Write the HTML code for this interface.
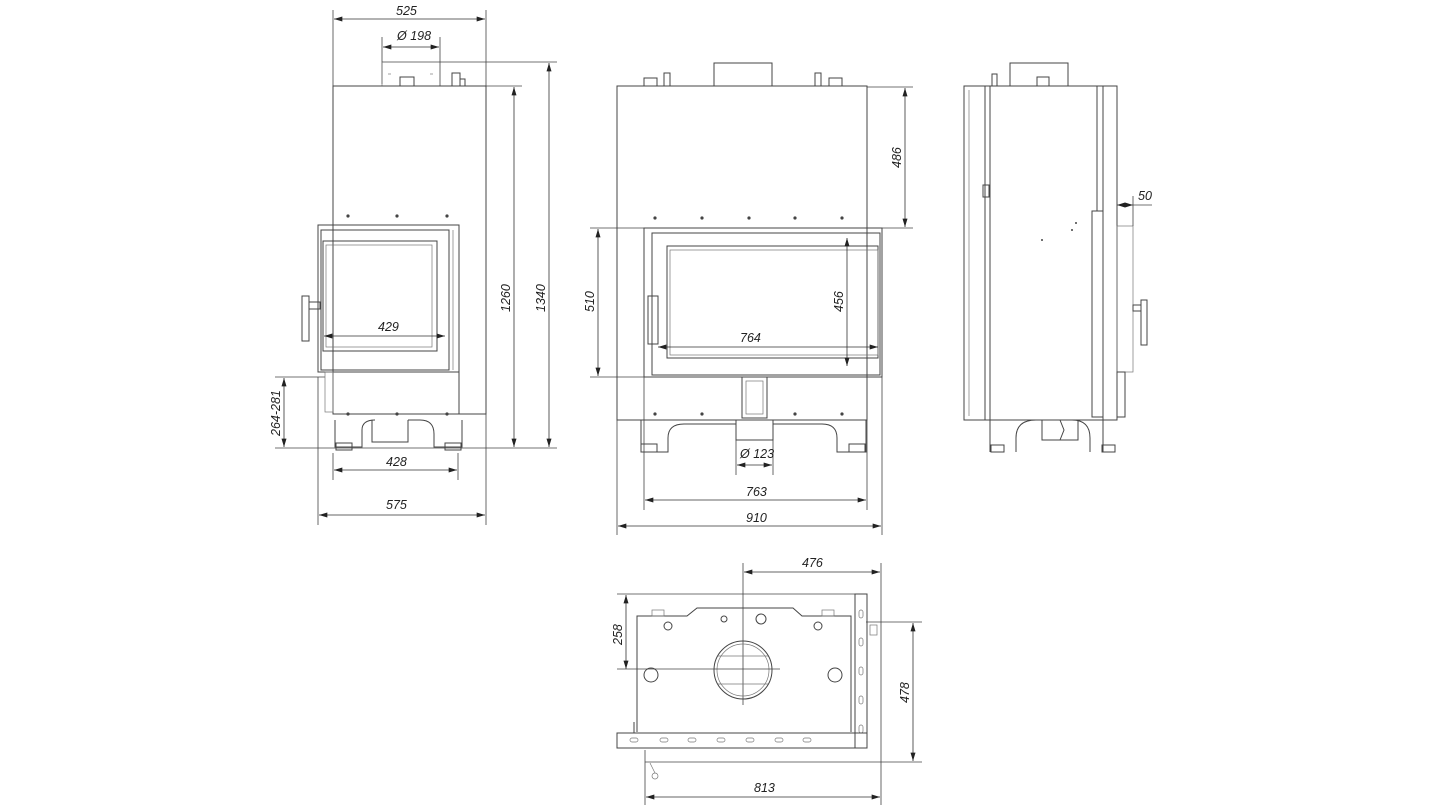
<!DOCTYPE html>
<html><head><meta charset="utf-8"><style>
html,body{margin:0;padding:0;background:#fff}
svg{display:block}
text{font-family:"Liberation Sans",sans-serif;font-style:italic;font-size:12.5px;fill:#222}
.b{fill:none;stroke:#444;stroke-width:1}
.t{fill:none;stroke:#777;stroke-width:0.7}
.d{fill:none;stroke:#444;stroke-width:0.8}
.dm{fill:none;stroke:#333;stroke-width:0.8;marker-start:url(#a);marker-end:url(#a)}
.dot{fill:#444}
</style></head><body>
<svg width="1445" height="812" viewBox="0 0 1445 812" xmlns="http://www.w3.org/2000/svg">
<defs><marker id="a" viewBox="0 0 10 6" refX="10" refY="3" markerWidth="9" markerHeight="5" orient="auto-start-reverse" markerUnits="userSpaceOnUse"><path d="M10,3 L0,0 L0,6 z" fill="#222"/></marker></defs>

<!-- ================= LEFT VIEW ================= -->
<line class="d" x1="333" y1="10" x2="333" y2="86"/><line class="d" x1="486" y1="10" x2="486" y2="86"/>
<line class="dm" x1="334" y1="19" x2="485" y2="19"/><text x="396" y="15">525</text>
<line class="d" x1="382" y1="37" x2="382" y2="84"/><line class="d" x1="440" y1="37" x2="440" y2="86"/>
<line class="dm" x1="383" y1="47" x2="439" y2="47"/><text x="397" y="40">Ø 198</text>
<line class="d" x1="382" y1="62" x2="557" y2="62"/>
<line class="d" x1="486" y1="86" x2="522" y2="86"/>
<line class="d" x1="275" y1="448" x2="557" y2="448"/>
<line class="d" x1="275" y1="377" x2="325" y2="377"/>
<line class="dm" x1="514" y1="87" x2="514" y2="447"/><text transform="translate(510,312) rotate(-90)">1260</text>
<line class="dm" x1="549" y1="63" x2="549" y2="447"/><text transform="translate(545,312) rotate(-90)">1340</text>
<line class="dm" x1="284" y1="378" x2="284" y2="447"/><text transform="translate(280,436) rotate(-90)">264-281</text>
<line class="d" x1="333" y1="453" x2="333" y2="480"/><line class="d" x1="458" y1="453" x2="458" y2="480"/>
<line class="dm" x1="334" y1="470" x2="457" y2="470"/><text x="386" y="466">428</text>
<line class="d" x1="318" y1="377" x2="318" y2="525"/><line class="d" x1="486" y1="414" x2="486" y2="525"/>
<line class="dm" x1="319" y1="515" x2="485" y2="515"/><text x="386" y="509">575</text>
<line class="t" x1="382" y1="62" x2="382" y2="86"/>
<rect class="b" x="400" y="77" width="14" height="9"/>
<rect class="b" x="452" y="73" width="8" height="13"/><rect class="b" x="460" y="79" width="5" height="7"/>
<line class="t" x1="388" y1="74" x2="391" y2="74"/><line class="t" x1="430" y1="74" x2="433" y2="74"/>
<rect class="b" x="333" y="86" width="153" height="328"/>
<circle class="dot" cx="348" cy="216" r="1.6"/><circle class="dot" cx="397" cy="216" r="1.6"/><circle class="dot" cx="447" cy="216" r="1.6"/>
<rect class="b" x="318" y="225" width="141" height="147" fill="#fff"/>
<rect class="b" x="321" y="230" width="128" height="140"/>
<rect class="b" x="323" y="241" width="114" height="110"/>
<rect class="t" x="326" y="245" width="106" height="102"/>
<line class="t" x1="453" y1="230" x2="453" y2="370"/>
<line class="dm" x1="324" y1="336" x2="445" y2="336"/><text x="378" y="331">429</text>
<rect class="b" x="302" y="296" width="7" height="45"/><rect class="b" x="309" y="302" width="11" height="7"/>
<rect class="b" x="333" y="372" width="126" height="42"/>
<rect class="t" x="325" y="372" width="8" height="40"/>
<circle class="dot" cx="348" cy="414" r="1.6"/><circle class="dot" cx="397" cy="414" r="1.6"/><circle class="dot" cx="447" cy="414" r="1.6"/>
<path class="b" d="M335,420 V447 H362 V430 Q362,420 375,420 M372,420 V442 H408 V420 M408,420 H420 Q434,420 434,434 V447 H462 V420"/>
<rect class="b" x="336" y="443" width="16" height="7"/><rect class="b" x="445" y="443" width="16" height="7"/>

<!-- ================= MIDDLE VIEW ================= -->
<rect class="b" x="714" y="63" width="58" height="23"/>
<rect class="b" x="644" y="78" width="13" height="8"/><rect class="b" x="664" y="73" width="6" height="13"/>
<rect class="b" x="815" y="73" width="6" height="13"/><rect class="b" x="829" y="78" width="13" height="8"/>
<rect class="b" x="617" y="86" width="250" height="334"/>
<line class="d" x1="867" y1="87" x2="913" y2="87"/><line class="d" x1="590" y1="228" x2="913" y2="228"/>
<line class="dm" x1="905" y1="88" x2="905" y2="227"/><text transform="translate(901,168) rotate(-90)">486</text>
<circle class="dot" cx="655" cy="218" r="1.6"/><circle class="dot" cx="702" cy="218" r="1.6"/><circle class="dot" cx="749" cy="218" r="1.6"/><circle class="dot" cx="795" cy="218" r="1.6"/><circle class="dot" cx="842" cy="218" r="1.6"/>
<rect class="b" x="644" y="228" width="238" height="149" fill="#fff"/>
<rect class="b" x="652" y="233" width="228" height="142"/>
<rect class="b" x="667" y="246" width="211" height="112"/>
<rect class="t" x="670" y="250" width="208" height="105"/>
<rect class="b" x="648" y="296" width="10" height="48"/>
<line class="dm" x1="847" y1="238" x2="847" y2="366"/><text transform="translate(843,312) rotate(-90)">456</text>
<line class="dm" x1="658" y1="347" x2="878" y2="347"/><text x="740" y="342">764</text>
<line class="d" x1="590" y1="377" x2="882" y2="377"/>
<line class="dm" x1="598" y1="229" x2="598" y2="376"/><text transform="translate(594,312) rotate(-90)">510</text>
<rect class="b" x="742" y="377" width="25" height="41"/><rect class="t" x="746" y="381" width="17" height="33"/>
<circle class="dot" cx="655" cy="414" r="1.6"/><circle class="dot" cx="702" cy="414" r="1.6"/><circle class="dot" cx="795" cy="414" r="1.6"/><circle class="dot" cx="842" cy="414" r="1.6"/>
<path class="b" d="M641,420 V452 H668 V438 Q668,424 684,424 H736 V420 M773,420 V424 H822 Q837,424 837,438 V452 H866 V420"/>
<rect class="b" x="736" y="420" width="37" height="20"/>
<rect class="b" x="641" y="444" width="16" height="8"/><rect class="b" x="849" y="444" width="16" height="8"/>
<line class="d" x1="736" y1="440" x2="736" y2="475"/><line class="d" x1="773" y1="440" x2="773" y2="475"/>
<line class="dm" x1="737" y1="465" x2="772" y2="465"/><text x="740" y="458">Ø 123</text>
<line class="d" x1="644" y1="377" x2="644" y2="510"/><line class="d" x1="867" y1="420" x2="867" y2="510"/>
<line class="dm" x1="645" y1="500" x2="866" y2="500"/><text x="746" y="496">763</text>
<line class="d" x1="617" y1="420" x2="617" y2="535"/><line class="d" x1="882" y1="377" x2="882" y2="535"/>
<line class="dm" x1="618" y1="526" x2="881" y2="526"/><text x="746" y="522">910</text>

<!-- ================= RIGHT VIEW ================= -->
<rect class="b" x="1010" y="63" width="58" height="23"/><rect class="b" x="1037" y="77" width="12" height="9"/>
<rect class="b" x="992" y="74" width="5" height="12"/>
<rect class="b" x="964" y="86" width="21" height="334"/><line class="t" x1="969" y1="90" x2="969" y2="416"/>
<rect class="b" x="985" y="86" width="5" height="334"/>
<rect class="b" x="990" y="86" width="113" height="334"/>
<rect class="b" x="983" y="185" width="6" height="12"/>
<rect class="b" x="1097" y="86" width="6" height="125"/>
<rect class="b" x="1092" y="211" width="11" height="206"/>
<rect class="b" x="1103" y="86" width="14" height="334"/>
<rect class="t" x="1117" y="226" width="16" height="146"/>
<rect class="b" x="1117" y="372" width="8" height="45"/>
<rect class="b" x="1141" y="300" width="6" height="45"/><rect class="b" x="1133" y="305" width="8" height="6"/>
<circle class="dot" cx="1042" cy="240" r="1"/><circle class="dot" cx="1072" cy="230" r="1"/><circle class="dot" cx="1076" cy="223" r="1"/>
<path class="b" d="M990,420 V452 M1103,420 V452 M1016,452 V438 Q1016,420 1036,420 H1072 Q1090,420 1090,438 V452 M1042,420 V440 H1078 V420 M1060,420 L1064,430 L1060,440"/>
<rect class="b" x="991" y="445" width="13" height="7"/><rect class="b" x="1102" y="445" width="13" height="7"/>
<line class="d" x1="1117" y1="205" x2="1152" y2="205"/><line class="d" x1="1133" y1="196" x2="1133" y2="226"/>
<path d="M1133,205 l-8,-2.5 v5 z M1117,205 l8,-2.5 v5 z" fill="#222"/>
<text x="1138" y="200">50</text>

<!-- ================= BOTTOM VIEW ================= -->
<line class="d" x1="743" y1="563" x2="743" y2="705"/><line class="d" x1="881" y1="563" x2="881" y2="805"/>
<line class="dm" x1="744" y1="572" x2="880" y2="572"/><text x="802" y="567">476</text>
<line class="d" x1="617" y1="594" x2="856" y2="594"/>
<line class="dm" x1="626" y1="595" x2="626" y2="669"/><text transform="translate(622,645) rotate(-90)">258</text>
<path class="b" d="M637,732 V616 H687 L697,608 H793 L802,616 H851 V732"/>
<rect class="t" x="652" y="610" width="12" height="6"/><rect class="t" x="822" y="610" width="12" height="6"/>
<circle class="b" cx="743" cy="670" r="29"/><circle class="t" cx="743" cy="670" r="26"/>
<line class="t" x1="718" y1="656" x2="768" y2="656"/><line class="t" x1="718" y1="684" x2="768" y2="684"/>
<line class="d" x1="617" y1="669" x2="780" y2="669"/>
<circle class="b" cx="668" cy="626" r="4"/><circle class="b" cx="724" cy="619" r="3"/><circle class="b" cx="761" cy="619" r="5"/><circle class="b" cx="818" cy="626" r="4"/>
<circle class="b" cx="651" cy="675" r="7"/><circle class="b" cx="835" cy="675" r="7"/>
<rect class="b" x="855" y="594" width="12" height="154"/>
<g class="t"><rect x="859" y="610" width="4" height="8" rx="2"/><rect x="859" y="638" width="4" height="8" rx="2"/><rect x="859" y="667" width="4" height="8" rx="2"/><rect x="859" y="696" width="4" height="8" rx="2"/><rect x="859" y="725" width="4" height="8" rx="2"/></g>
<rect class="t" x="870" y="625" width="7" height="10"/>
<rect class="b" x="617" y="733" width="250" height="15"/>
<g class="t"><rect x="630" y="738" width="8" height="4" rx="2"/><rect x="660" y="738" width="8" height="4" rx="2"/><rect x="688" y="738" width="8" height="4" rx="2"/><rect x="717" y="738" width="8" height="4" rx="2"/><rect x="746" y="738" width="8" height="4" rx="2"/><rect x="775" y="738" width="8" height="4" rx="2"/><rect x="803" y="738" width="8" height="4" rx="2"/></g>
<line class="b" x1="634" y1="722" x2="634" y2="733"/>
<line class="t" x1="650" y1="763" x2="655" y2="773"/><circle class="t" cx="655" cy="776" r="3"/>
<line class="d" x1="866" y1="622" x2="922" y2="622"/><line class="d" x1="645" y1="762" x2="922" y2="762"/>
<line class="dm" x1="913" y1="623" x2="913" y2="761"/><text transform="translate(909,703) rotate(-90)">478</text>
<line class="d" x1="645" y1="750" x2="645" y2="805"/>
<line class="dm" x1="646" y1="797" x2="880" y2="797"/><text x="754" y="792">813</text>
</svg>
</body></html>
